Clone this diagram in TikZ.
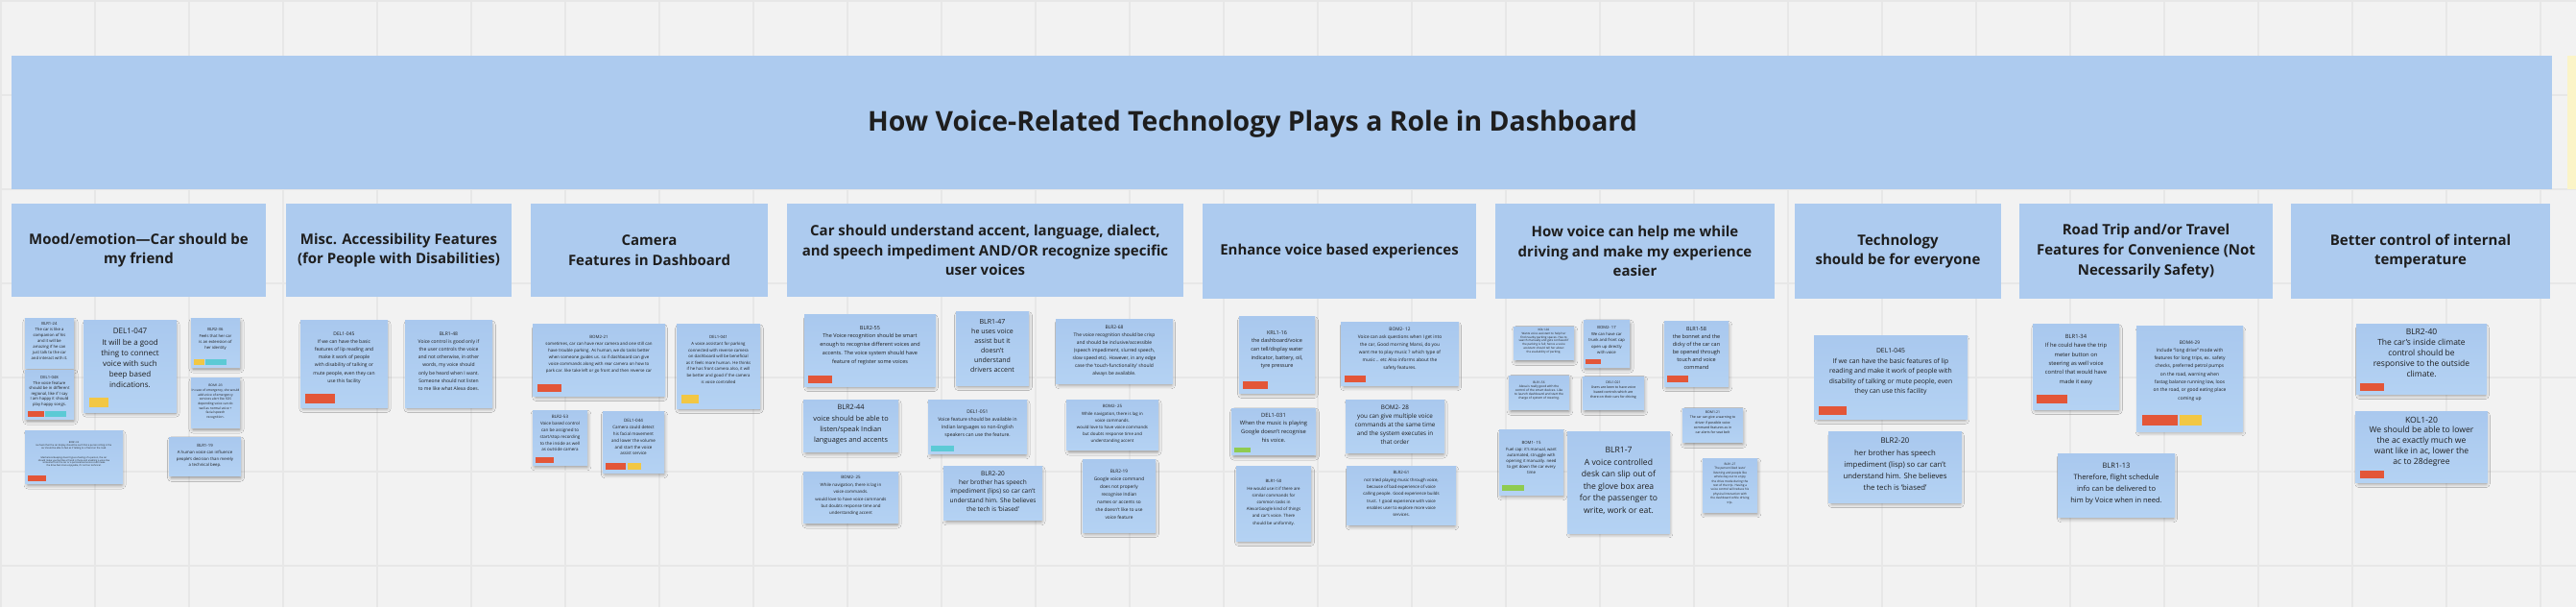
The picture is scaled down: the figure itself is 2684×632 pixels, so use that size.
\documentclass[tikz,border=0pt]{standalone}
\usepackage{fontspec}
\setmainfont{Open Sans}
\usetikzlibrary{shadows.blur}
\definecolor{bg}{HTML}{F2F2F2}
\definecolor{gridc}{HTML}{E7E7E7}
\definecolor{stk}{HTML}{ADCBEF}
\definecolor{stktop}{HTML}{A9C8EE}
\definecolor{stkbot}{HTML}{B4D2F3}
\definecolor{lred}{HTML}{E35638}
\definecolor{lyel}{HTML}{F2C744}
\definecolor{lteal}{HTML}{5CCAD5}
\definecolor{lgrn}{HTML}{8FCB50}
\definecolor{ink}{HTML}{1E1E1E}
\definecolor{strip}{HTML}{FBF4C8}
\newcommand\fs[2]{\fontsize{\fpeval{#1*0.28453}pt}{\fpeval{#2*0.28453}pt}\selectfont}
\tikzset{
 stickybox/.style={top color=stktop, bottom color=stkbot, draw=none,
   blur shadow={shadow xshift=0.3pt, shadow yshift=-0.9pt, shadow blur radius=1.2pt, shadow opacity=45, shadow scale=0.96}},
 notetext/.style={text=ink, align=center, inner sep=0pt},
 hdrtext/.style={text=ink, align=center, inner sep=0pt, font=\fs{15}{20.7}\bfseries},
}
\newcommand\sticky[9]{%
 \path[stickybox] (#2,#3) rectangle ++(#4,#5);
 \node[notetext, font=\fs{#6}{#7}, anchor=north] (#1) at ({#2+#4/2},{#8-0.45*#6}) {#9};}
\newcommand\lab[5]{\fill[#5] (#1,#2) rectangle (#3,#4);}
\newcommand\hdr[6]{\fill[stk] (#2,#3) rectangle (#4,#5);
 \node[hdrtext] (#1) at ({(#2+#4)/2},{(#3+#5)/2}) {#6};}
\begin{document}
\begin{tikzpicture}[x=0.01cm,y=-0.01cm]
\fill[bg] (0,0) rectangle (2684,632);
\useasboundingbox (0,0) rectangle (2684,632);
\foreach \i in {0,...,27} \draw[gridc, line width=0.55pt] ({1+98*\i},0) -- ({1+98*\i},632);
\foreach \j in {0,...,6} \draw[gridc, line width=0.55pt] (0,{1+98*\j}) -- (2684,{1+98*\j});
% banner
\fill[stk] (12,58) rectangle (2659,197);
\fill[strip] (2675,58) rectangle (2684,197);
\node[font=\fs{28.4}{32}\bfseries, text=ink, inner sep=0pt] (title) at (1305,129) {How Voice-Related Technology Plays a Role in Dashboard};
% headers
\hdr{h1}{12}{212}{277}{309}{Mood/emotion—Car should be\\my friend}
\hdr{h2}{298}{212}{533}{309}{Misc. Accessibility Features\\(for People with Disabilities)}
\hdr{h3}{553}{212}{800}{309}{Camera\\Features in Dashboard}
\hdr{h4}{820}{212}{1233}{309}{Car should understand accent, language, dialect,\\and speech impediment AND/OR recognize specific\\user voices}
\hdr{h5}{1253}{212}{1538}{311}{Enhance voice based experiences}
\hdr{h6}{1558}{212}{1849}{311}{How voice can help me while\\driving and make my experience\\easier}
\hdr{h7}{1870}{212}{2085}{311}{Technology\\should be for everyone}
\hdr{h8}{2104}{212}{2368}{311}{Road Trip and/or Travel\\Features for Convenience (Not\\Necessarily Safety)}
\hdr{h9}{2387}{212}{2657}{311}{Better control of internal\\temperature}
% column 1
\sticky{n11}{26}{331}{51}{52}{4.2}{5.9}{337}{BLR1-24\\The car is like a\\companion of his\\and it will be\\amazing if he can\\just talk to the car\\and interact with it.}
\sticky{n12}{26}{385}{51}{51}{4.2}{5.5}{393}{DEL1-048\\The voice feature\\should be in different\\regional, like if I say\\I am happy it should\\play happy songs.}
\lab{29}{428}{46}{434}{lred}\lab{47}{428}{69}{434}{lteal}
\sticky{n13}{87}{333}{97}{96}{8}{11.2}{345}{DEL1-047\\It will be a good\\thing to connect\\voice with such\\beep based\\indications.}
\lab{93}{414}{113}{424}{lyel}
\sticky{n14}{199}{331}{51}{51}{4.2}{6.3}{343}{BLR2-36\\Feels that her car\\is an extension of\\her identity}
\lab{202}{374}{213}{380}{lyel}\lab{214}{374}{236}{380}{lteal}
\sticky{n15}{199}{393}{51}{52}{3.3}{4.7}{401}{BOM1-03\\In case of emergency, she would\\add voice of emergency\\services alert like SOS\\depending voice can do\\well as normal voice +\\facial speech\\recognition.}
\sticky{n16}{26}{448}{102}{55}{2.4}{2.9}{460}{BOM1-05\\He feels that the car display should be such that a person sitting in the\\car should be able to feel as if talking to a friend on the road.\\[2pt]Mechanical beeping doesn't give a feeling of a person, the car\\should make you feel like a friend is there and enabling a voice like\\someone from the car or a personalised voice could make\\the drive feel more enjoyable, it's not too technical.}
\lab{29}{495}{48}{501}{lred}
\sticky{n17}{176}{455}{75}{40}{4.3}{6.6}{464}{BLR1-19\\A human voice can influence\\people's decision than merely\\a technical beep.}
% column 2
\sticky{n21}{313}{333}{91}{91}{5}{8.2}{347}{DEL1-045\\If we can have the basic\\features of lip reading and\\make it work of people\\with disability of talking or\\mute people, even they can\\use this facility}
\lab{318}{410}{349}{420}{lred}
\sticky{n22}{422}{333}{91}{91}{5}{8.2}{347}{BLR1-48\\Voice control is good only if\\the user controls the voice\\and not otherwise, in other\\words, my voice should\\only be heard when I want.\\Someone should not listen\\to me like what Alexa does.}
% column 3
\sticky{n31}{555}{337}{138}{75}{4.4}{7}{351}{BOM2-21\\sometimes, car can have rear camera and one still can\\have trouble parking. As human, we do tasks better\\when someone guides us. so if dashboard can give\\voice commands along with rear camera on how to\\park car. like take left or go front and then reverse car}
\lab{560}{400}{585}{408}{lred}
\sticky{n32}{705}{337}{87}{88}{4.3}{6.6}{351}{DEL1-041\\A voice assistant for parking\\connected with reverse camera\\on dashboard will be beneficial\\as it feels more human. He thinks\\if he has front camera also, it will\\be better and good if the camera\\is voice controlled}
\lab{710}{411}{728}{420}{lyel}
\sticky{n33}{555}{427}{57}{57}{4.5}{6.8}{434}{BLR2-53\\Voice based control\\can be assigned to\\start/stop recording\\to the inside as well\\as outside camera}
\lab{558}{476}{577}{482}{lred}
\sticky{n34}{628}{428}{64}{64}{4.5}{6.8}{438}{DEL1-044\\Camera could detect\\his facial movement\\and lower the volume\\and start the voice\\assist service}
\lab{631}{482}{652}{489}{lred}\lab{654}{482}{668}{489}{lyel}
% column 4
\sticky{n41}{838}{327}{137}{75}{5.5}{8.7}{341}{BLR2-55\\The Voice recognition should be smart\\enough to recognise different voices and\\accents. The voice system should have\\feature of register some voices}
\lab{842}{391}{867}{399}{lred}
\sticky{n42}{996}{324}{76}{77}{7}{10}{335}{BLR1-47\\he uses voice\\assist but it\\doesn't\\understand\\drivers accent}
\sticky{n43}{1100}{332}{122}{67}{4.9}{8}{340}{BLR2-68\\The voice recognition should be crisp\\and should be inclusive/accessible\\(speech impediment, slurred speech,\\slow speed etc). However, in any edge\\case the `touch-functionality' should\\always be available.}
\sticky{n44}{837}{416}{99}{54}{7.3}{11.3}{424}{BLR2-44\\voice should be able to\\listen/speak Indian\\languages and accents}
\sticky{n45}{967}{416}{103}{56}{5}{8}{428}{DEL1-051\\Voice feature should be available in\\Indian languages so non-English\\speakers can use the feature.}
\lab{970}{464}{994}{470}{lteal}
\sticky{n46}{1111}{416}{96}{52}{4.4}{7.1}{423}{BOM2- 25\\While navigation, there is lag in\\voice commands.\\would love to have voice commands\\but doubts response time and\\understanding accent}
\sticky{n47}{837}{491}{99}{53}{4.4}{7.4}{497}{BOM2- 25\\While navigation, there is lag in\\voice commands.\\would love to have voice commands\\but doubts response time and\\understanding accent}
\sticky{n48}{983}{485}{103}{56}{6.5}{9.2}{493}{BLR2-20\\her brother has speech\\impediment (lips) so car can't\\understand him. She believes\\the tech is `biased'}
\sticky{n49}{1128}{478}{76}{76}{4.8}{8}{490}{BLR2-19\\Google voice command\\does not properly\\recognise Indian\\names or accents so\\she doesn't like to use\\voice feature}
% column 5
\sticky{n51}{1291}{329}{79}{80}{5.5}{8.6}{346}{KRL1-16\\the dashboard/voice\\can tell/display water\\indicator, battery, oil,\\tyre pressure}
\lab{1295}{397}{1321}{405}{lred}
\sticky{n52}{1397}{335}{123}{66}{4.8}{8}{342}{BOM2- 12\\Voice can ask questions when I get into\\the car, Good morning Mansi, do you\\want me to play music ? which type of\\music .. etc Also informs about the\\safety features.}
\lab{1401}{391}{1423}{398}{lred}
\sticky{n53}{1283}{425}{88}{48}{5.8}{8.6}{432}{DEL1-031\\When the music is playing\\Google doesn't recognise\\his voice.}
\lab{1286}{466}{1303}{471}{lgrn}
\sticky{n54}{1402}{416}{103}{55}{6.3}{9}{424}{BOM2- 28\\you can give multiple voice\\commands at the same time\\and the system executes in\\that order}
\sticky{n55}{1288}{485}{78}{78}{4.4}{7.2}{501}{BLR1-50\\He would use it if there are\\similar commands for\\common tasks in\\Alexa/Google kind of things\\and car's voice. There\\should be uniformity.}
\sticky{n56}{1403}{485}{114}{61}{4.4}{7.3}{492}{BLR2-61\\not tried playing music through voice,\\because of bad experience of voice\\calling people. Good experience builds\\trust. 1 good experience with voice\\enables user to explore more voice\\services.}
% column 6
\sticky{n61}{1577}{340}{63}{34}{3}{3.8}{343}{KOL1-02\\Wants voice assistant to help her\\find nearby parking spaces. Has to\\search manually and gets confused if\\the parking is full; hence a voice\\assistant should tell her about\\the availability of parking.}
\sticky{n62}{1650}{333}{48}{49}{4.2}{6.5}{341}{BOM2- 17\\We can have car\\trunk and front cap\\open up directly\\with voice}
\lab{1652}{374}{1668}{379}{lred}
\sticky{n63}{1734}{334}{67}{68}{5.5}{8}{342}{BLR1-58\\the bonnet and the\\dicky of the car can\\be opened through\\touch and voice\\command}
\lab{1737}{391}{1759}{398}{lred}
\sticky{n64}{1572}{391}{63}{35}{3.2}{4}{398}{BLR1-56\\Alexa is really good with the\\control of the smart devices. Like\\to launch dashboard and start the\\charge of system of steering.}
\sticky{n65}{1649}{392}{64}{34}{3.5}{4.8}{398}{DEL1-021\\Users are keen to have voice\\based controls which are\\there on their cars for driving}
\sticky{n66}{1753}{425}{63}{35}{3.5}{5.2}{429}{BOM1-21\\The car can give a warning to\\driver if possible voice\\command features as in\\car alerts for seat belt}
\sticky{n67}{1562}{447}{67}{68}{4.3}{6.2}{461}{BOM1- 15\\Fuel cap: it's manual, want\\automated, struggle with\\opening it manually. need\\to get down the car every\\time}
\lab{1565}{505}{1588}{511}{lgrn}
\sticky{n68}{1633}{449}{107}{106}{8.6}{12.4}{469}{BLR1-7\\A voice controlled\\desk can slip out of\\the glove box area\\for the passenger to\\write, work or eat.}
\sticky{n69}{1774}{477}{57}{56}{3.1}{4.4}{483}{BLR1-27\\The person liked `auto'\\listening and people like\\whole day out to enjoy\\the drive mode during the\\rest of the trip. Having a\\voice control will reduce his\\physical interaction with\\the dashboard while driving\\trip.}
% column 7
\sticky{n71}{1890}{349}{160}{87}{6.8}{10.5}{365}{DEL1-045\\If we can have the basic features of lip\\reading and make it work of people with\\disability of talking or mute people, even\\they can use this facility}
\lab{1895}{423}{1924}{432}{lred}
\sticky{n72}{1905}{449}{139}{74}{7.8}{12.2}{459}{BLR2-20\\her brother has speech\\impediment (lisp) so car can't\\understand him. She believes\\the tech is `biased'}
% column 8
\sticky{n81}{2118}{337}{90}{89}{5.8}{9.4}{350}{BLR1-34\\If he could have the trip\\meter button on\\steering as well voice\\control that would have\\made it easy}
\lab{2122}{411}{2154}{420}{lred}
\sticky{n82}{2226}{339}{111}{110}{4.9}{8.3}{356}{BOM4-29\\Include “long drive” mode with\\features for long trips, ex. safety\\checks, preferred petrol pumps\\on the road, warning when\\fastag balance running low, loos\\on the road, or good eating place\\coming up}
\lab{2232}{432}{2269}{443}{lred}\lab{2271}{432}{2294}{443}{lyel}
\sticky{n83}{2144}{472}{122}{66}{7.5}{12}{485}{BLR1-13\\Therefore, flight schedule\\info can be delivered to\\him by Voice when in need.}
% column 9
\sticky{n91}{2455}{337}{136}{73}{8.5}{11}{345}{BLR2-40\\The car’s inside climate\\control should be\\responsive to the outside\\climate.}
\lab{2459}{399}{2484}{407}{lred}
\sticky{n92}{2454}{428}{138}{74}{8.6}{10.8}{437}{KOL1-20\\We should be able to lower\\the ac exactly much we\\want like in ac, lower the\\ac to 28degree}
\lab{2459}{490}{2484}{498}{lred}
\end{tikzpicture}
\end{document}
